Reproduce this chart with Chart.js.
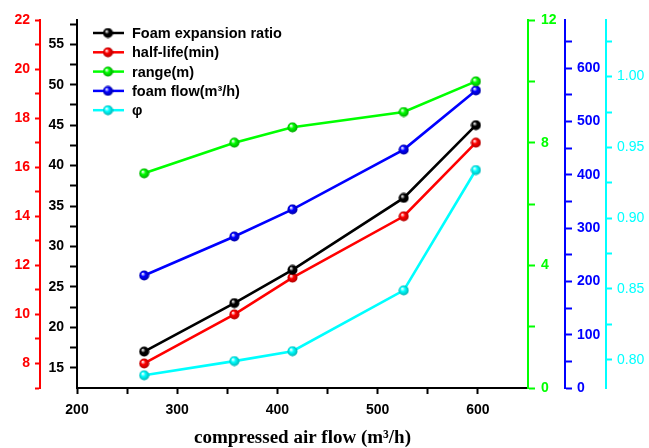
<!DOCTYPE html>
<html>
<head>
<meta charset="utf-8">
<script src="https://cdn.jsdelivr.net/npm/chart.js@4.4.0/dist/chart.umd.min.js"></script>
<style>
    html, body { margin: 0; padding: 0; background: #ffffff; }
    #wrap { width: 649px; height: 448px; }
</style>
</head>
<body>
<div id="wrap"><canvas id="chartBusa" width="649" height="448"></canvas></div>
<script>
// ---------------------------------------------------------------------
// Data
// ---------------------------------------------------------------------
const airFlow = [267, 357, 415, 526, 598];
const expansionRatio = [17, 23, 27.1, 36, 45];
const halfLife = [8, 10, 11.5, 14, 17];
const rangeM = [7, 8, 8.5, 9, 10];
const foamFlow = [211, 284, 335, 447, 558];
const phi = [0.789, 0.799, 0.806, 0.849, 0.934];

// tick labels (major) + minor tick positions for each axis
const xLabels = [200, 300, 400, 500, 600];
const xMinor = [250, 350, 450, 550];
const ratioLabels = [15, 20, 25, 30, 35, 40, 45, 50, 55];
const ratioMinor = [17.5, 22.5, 27.5, 32.5, 37.5, 42.5, 47.5, 52.5, 57.5];
const halfLabels = [8, 10, 12, 14, 16, 18, 20, 22];
const halfMinor = [7, 9, 11, 13, 15, 17, 19, 21];
const rangeLabels = [0, 4, 8, 12];
const rangeMinor = [2, 6, 10];
const flowLabels = [0, 100, 200, 300, 400, 500, 600];
const flowMinor = [50, 150, 250, 350, 450, 550, 650];
const phiLabels = [0.80, 0.85, 0.90, 0.95, 1.00];
const phiMinor = [0.825, 0.875, 0.925, 0.975, 1.025];

// bola kecil bergradasi untuk marker (mirip gaya Origin)
function bola(warna, gelap) {
    var c = document.createElement('canvas');
    c.width = 11; c.height = 11;
    var g = c.getContext('2d');
    var grd = g.createRadialGradient(3.9, 3.7, 0.3, 5.5, 5.5, 5.2);
    grd.addColorStop(0, '#ffffff');
    grd.addColorStop(0.4, warna);
    grd.addColorStop(1, gelap);
    g.fillStyle = grd;
    g.beginPath();
    g.arc(5.5, 5.5, 5, 0, Math.PI * 2);
    g.fill();
    return c;
}

function sumbuY(warna, min, max, major, minor, lebar, tl, pad, weight, pos, fmt, tebal) {
    return {
        type: 'linear',
        position: pos,
        weight: weight,
        min: min,
        max: max,
        afterBuildTicks: function(s) {
            s.ticks = major.concat(minor).sort(function(a, b) { return a - b; })
                .map(function(v) { return { value: v }; });
        },
        afterFit: function(s) { s.width = lebar; },
        ticks: {
            autoSkip: false,
            color: warna,
            padding: pad,
            font: { family: 'Liberation Sans', size: 14, weight: tebal ? 'bold' : 'normal' },
            callback: function(v) { return major.indexOf(v) >= 0 ? fmt(v) : ''; }
        },
        grid: {
            drawOnChartArea: false,
            drawTicks: true,
            tickLength: tl,
            tickWidth: 2,
            tickColor: warna
        },
        border: { display: true, color: warna, width: 2 }
    };
}

// legend digambar manual: garis + bola + teks
const legendOrigin = {
    id: 'legendOrigin',
    afterDatasetsDraw: function(chart) {
        var ctx = chart.ctx;
        ctx.save();
        chart.data.datasets.forEach(function(ds, i) {
            var y = 33 + i * 19.3;
            ctx.strokeStyle = ds.borderColor;
            ctx.lineWidth = 2.5;
            ctx.beginPath();
            ctx.moveTo(93, y);
            ctx.lineTo(124, y);
            ctx.stroke();
            ctx.drawImage(ds.pointStyle, 108 - 5.5, y - 5.5);
            ctx.fillStyle = '#000000';
            ctx.font = 'bold 14.5px "Liberation Sans"';
            ctx.textBaseline = 'middle';
            ctx.textAlign = 'left';
            ctx.fillText(ds.label, 132, y + 1);
        });
        ctx.restore();
    }
};

function titik(arr) {
    return arr.map(function(v, i) { return { x: airFlow[i], y: v }; });
}

function seri(label, data, warna, gelap, axis) {
    return {
        label: label,
        data: titik(data),
        yAxisID: axis,
        borderColor: warna,
        backgroundColor: warna,
        borderWidth: 2.6,
        pointStyle: bola(warna, gelap),
        pointRadius: 5,
        pointHoverRadius: 5,
        tension: 0
    };
}

var ctxChart = document.getElementById('chartBusa');
new Chart(ctxChart, {
    type: 'line',
    data: {
        datasets: [
            seri('Foam expansion ratio', expansionRatio, '#000000', '#000000', 'yRatio'),
            seri('half-life(min)', halfLife, '#ff0000', '#aa0000', 'yHalf'),
            seri('range(m)', rangeM, '#00ff00', '#00a000', 'yRange'),
            seri('foam flow(m\u00b3/h)', foamFlow, '#0000ff', '#0000a0', 'yFlow'),
            seri('\u03c6', phi, '#00ffff', '#00b0b0', 'yPhi')
        ]
    },
    options: {
        responsive: false,
        animation: false,
        devicePixelRatio: 1,
        layout: { padding: { top: 20, left: 0, right: 0, bottom: 0 } },
        plugins: {
            legend: { display: false },
            tooltip: { enabled: false }
        },
        scales: {
            x: {
                type: 'linear',
                position: 'bottom',
                min: 200,
                max: 650,
                afterBuildTicks: function(s) {
                    s.ticks = xLabels.concat(xMinor).sort(function(a, b) { return a - b; })
                        .map(function(v) { return { value: v }; });
                },
                afterFit: function(s) { s.height = 60; },
                ticks: {
                    autoSkip: false,
                    maxRotation: 0,
                    color: '#000000',
                    padding: 8,
                    font: { family: 'Liberation Sans', size: 14, weight: 'bold' },
                    callback: function(v) { return xLabels.indexOf(v) >= 0 ? String(v) : ''; }
                },
                grid: {
                    drawOnChartArea: false,
                    drawTicks: true,
                    tickLength: 6,
                    tickWidth: 2,
                    tickColor: '#000000'
                },
                border: { display: true, color: '#000000', width: 2 },
                title: {
                    display: true,
                    text: 'compressed air flow (m\u00b3/h)',
                    color: '#000000',
                    padding: { top: 2, bottom: -1 },
                    font: { family: 'Liberation Serif', size: 19, weight: 'bold' }
                }
            },
            yHalf: sumbuY('#ff0000', 7, 22, halfLabels, halfMinor, 40, 5, 5, 2, 'left',
                function(v) { return String(v); }, true),
            yRatio: sumbuY('#000000', 12.5, 58, ratioLabels, ratioMinor, 37, 7, 6, 1, 'left',
                function(v) { return String(v); }, true),
            yRange: sumbuY('#00ff00', 0, 12, rangeLabels, rangeMinor, 37, 7, 6, 1, 'right',
                function(v) { return String(v); }, true),
            yFlow: sumbuY('#0000ff', 0, 690, flowLabels, flowMinor, 41, 7, 5, 2, 'right',
                function(v) { return String(v); }, true),
            yPhi: sumbuY('#00ffff', 0.78, 1.04, phiLabels, phiMinor, 43, 6, 5, 3, 'right',
                function(v) { return v.toFixed(2); }, false)
        }
    },
    plugins: [legendOrigin]
});
</script>
</body>
</html>
